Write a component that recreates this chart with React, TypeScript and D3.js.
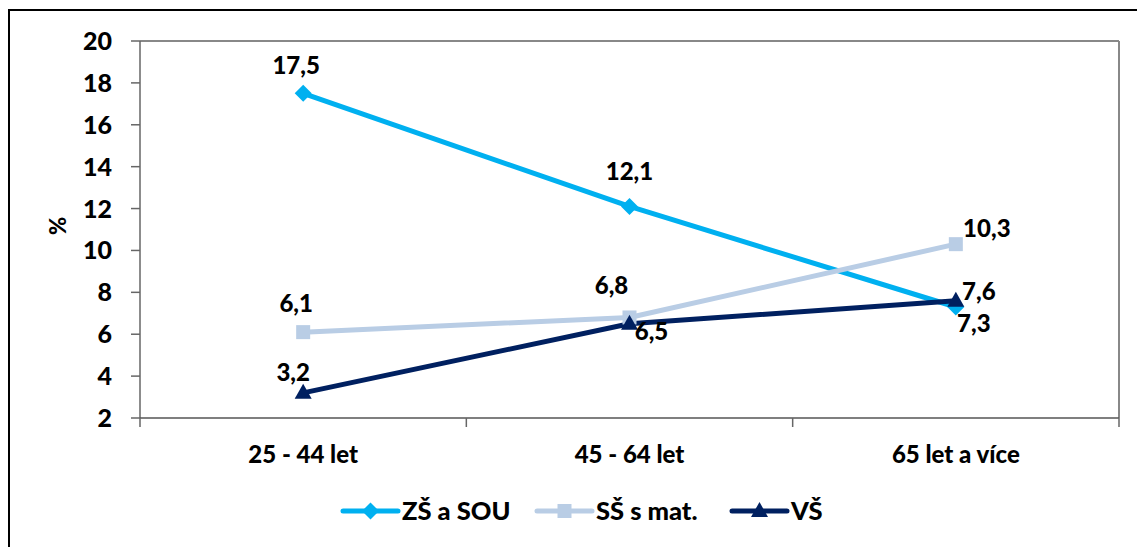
import React from "react";
import * as d3 from "d3";

const categories = ["25 - 44 let", "45 - 64 let", "65 let a více"];
const zsSou = [17.5, 12.1, 7.3];
const ssMat = [6.1, 6.8, 10.3];
const vs = [3.2, 6.5, 7.6];
const yTicks = [2, 4, 6, 8, 10, 12, 14, 16, 18, 20];
const seriesNames = ["ZŠ a SOU", "SŠ s mat.", "VŠ"];
const seriesColors = ["#00B0F0", "#B9CDE5", "#002060"];
const seriesShapes = ["diamond", "square", "triangle"];
// label placement: [dx, dy] relative to point
const labelOffsets = [
  [[-7, -28], [0, -35], [18, 16]],
  [[-7, -29], [-18, -32], [31, -16]],
  [[-10, -21], [22, 8], [23, -9]],
];

const FONT = "Lato, 'Open Sans', sans-serif";

function Marker({ shape, x, y, color }: { shape: string; x: number; y: number; color: string }) {
  if (shape === "diamond") {
    const s = 8.5;
    return <path d={`M${x},${y - s}L${x + s},${y}L${x},${y + s}L${x - s},${y}Z`} fill={color} />;
  }
  if (shape === "square") {
    const s = 7;
    return <rect x={x - s} y={y - s} width={2 * s} height={2 * s} fill={color} />;
  }
  const s = 8.5;
  return <path d={`M${x},${y - 9}L${x + s},${y + 6}L${x - s},${y + 6}Z`} fill={color} />;
}

export default function App() {
  const W = 1137, H = 547;
  const left = 140, right = 1119, top = 41, bottom = 418;
  const x = d3.scaleBand().domain(categories).range([left, right]);
  const y = d3.scaleLinear().domain([2, 20]).range([bottom, top]);
  const data = [zsSou, ssMat, vs];
  const line = d3
    .line<number>()
    .x((_, i) => (x(categories[i]) as number) + x.bandwidth() / 2)
    .y((d) => y(d));
  const fmt = (v: number) => v.toFixed(1).replace(".", ",");
  const bandEdges = [...categories.map((c) => x(c) as number), right];
  const legendX = [343, 537, 732];
  const legendY = 511;

  return (
    <svg width={W} height={H} style={{ position: "absolute", left: 0, top: 0, background: "#fff" }}>
      <rect x={0} y={0} width={W} height={H} fill="#fff" />
      <rect x={9} y={10} width={W + 20} height={H + 20} fill="none" stroke="#000" strokeWidth={2} />
      {/* plot area border */}
      <line x1={left} x2={right} y1={top} y2={top} stroke="#888" strokeWidth={2} />
      <line x1={right} x2={right} y1={top} y2={bottom} stroke="#888" strokeWidth={2} />
      <line x1={left} x2={left} y1={top} y2={bottom} stroke="#666" strokeWidth={1.5} />
      <line x1={left} x2={right} y1={bottom} y2={bottom} stroke="#555" strokeWidth={1.5} />
      {yTicks.map((t) => (
        <g key={t}>
          <line x1={left - 9} x2={left} y1={y(t)} y2={y(t)} stroke="#666" strokeWidth={1.5} />
          <text x={112} y={y(t)} dy="0.36em" textAnchor="end" fontFamily={FONT} fontWeight={900} fontSize={25} fill="#000">
            {t}
          </text>
        </g>
      ))}
      {bandEdges.map((e, i) => (
        <line key={i} x1={e} x2={e} y1={bottom} y2={bottom + 9} stroke="#666" strokeWidth={1.5} />
      ))}
      {categories.map((c) => (
        <text key={c} x={(x(c) as number) + x.bandwidth() / 2} y={454} dy="0.36em" textAnchor="middle" fontFamily={FONT} fontWeight={900} fontSize={24} fill="#000">
          {c}
        </text>
      ))}
      <text transform={`translate(58,226) rotate(-90)`} textAnchor="middle" dy="0.36em" fontFamily={FONT} fontWeight={900} fontSize={22} fill="#000">
        %
      </text>
      {data.map((s, si) => (
        <path key={si} d={line(s) as string} fill="none" stroke={seriesColors[si]} strokeWidth={5} strokeLinejoin="round" />
      ))}
      {data.map((s, si) =>
        s.map((v, i) => {
          const cx = (x(categories[i]) as number) + x.bandwidth() / 2;
          return <Marker key={`${si}-${i}`} shape={seriesShapes[si]} x={cx} y={y(v)} color={seriesColors[si]} />;
        })
      )}
      {data.map((s, si) =>
        s.map((v, i) => {
          const cx = (x(categories[i]) as number) + x.bandwidth() / 2;
          const [dx, dy] = labelOffsets[si][i];
          return (
            <text key={`l${si}-${i}`} x={cx + dx} y={y(v) + dy} dy="0.36em" textAnchor="middle" fontFamily={FONT} fontWeight={900} fontSize={24} fill="#000">
              {fmt(v)}
            </text>
          );
        })
      )}
      {seriesNames.map((n, si) => (
        <g key={n}>
          <line x1={legendX[si]} x2={legendX[si] + 55} y1={legendY} y2={legendY} stroke={seriesColors[si]} strokeWidth={5} strokeLinecap="round" />
          <Marker shape={seriesShapes[si]} x={legendX[si] + 27.5} y={legendY} color={seriesColors[si]} />
          <text x={legendX[si] + 59} y={legendY} dy="0.36em" fontFamily={FONT} fontWeight={900} fontSize={25.5} fill="#000">
            {n}
          </text>
        </g>
      ))}
    </svg>
  );
}
